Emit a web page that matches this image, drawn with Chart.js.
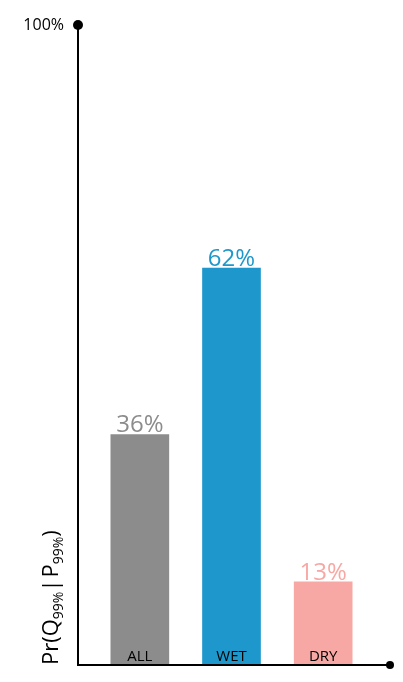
<!DOCTYPE html>
<html><head><meta charset="utf-8">
<script src="https://cdn.jsdelivr.net/npm/chart.js@4/dist/chart.umd.min.js"></script>
<style>html,body{margin:0;padding:0;background:#fff}#wrap{width:403px;height:682px}</style>
</head><body><div id="wrap"><canvas id="c"></canvas></div>
<script>
const categories = ["ALL", "WET", "DRY"];
const values = [36, 62, 13];
const colors = ["#8c8c8c", "#1e98cc", "#f7a8a4"];
const yMaxLabel = "100%";

const F = "'Open Sans', 'Liberation Sans', sans-serif";
const AX = 78, AXR = 390;
const deco = {
  id: 'deco',
  afterDatasetsDraw(chart) {
    const {ctx, chartArea: a} = chart;
    const xs = chart.scales.x, ys = chart.scales.y;
    ctx.save();
    ctx.strokeStyle = '#000'; ctx.lineWidth = 2;
    ctx.beginPath(); ctx.moveTo(AX, a.top); ctx.lineTo(AX, a.bottom); ctx.lineTo(AXR, a.bottom); ctx.stroke();
    ctx.fillStyle = '#000';
    ctx.beginPath(); ctx.arc(AX, a.top, 5, 0, Math.PI*2); ctx.fill();
    ctx.beginPath(); ctx.arc(AXR, a.bottom, 4, 0, Math.PI*2); ctx.fill();
    ctx.font = '16px ' + F; ctx.textAlign = 'right'; ctx.textBaseline = 'middle';
    ctx.fillText(yMaxLabel, AX - 14, ys.getPixelForValue(100));
    values.forEach((v, i) => {
      const x = xs.getPixelForValue(i);
      ctx.textAlign = 'center';
      ctx.font = '24px ' + F; ctx.fillStyle = colors[i]; ctx.textBaseline = 'bottom';
      ctx.fillText(v + '%', x, ys.getPixelForValue(v) + 3);
      ctx.font = '15px ' + F; ctx.fillStyle = '#000'; ctx.textBaseline = 'bottom';
      ctx.fillText(categories[i], x, a.bottom - 1);
    });
    ctx.translate(50, a.bottom);
    ctx.rotate(-Math.PI/2);
    ctx.textAlign = 'left'; ctx.textBaseline = 'alphabetic'; ctx.fillStyle = '#000';
    const parts = [["Pr(Q", 22, 0], ["99%", 14, 5], ["|", 22, 0], ["P", 22, 0], ["99%", 14, 5], [")", 22, 0]];
    let px = 0;
    parts.forEach(([t, s, dy]) => { ctx.font = s + 'px ' + F; ctx.fillText(t, px, dy + 8); px += ctx.measureText(t).width + (t === "|" ? 2 : 0); });
    ctx.restore();
  }
};
new Chart(document.getElementById('c'), {
  type: 'bar',
  data: { labels: categories, datasets: [{ data: values, backgroundColor: colors, barThickness: 58 }] },
  options: {
    responsive: true, maintainAspectRatio: false, animation: false,
    layout: { padding: { left: 94, top: 25, right: 34, bottom: 17 } },
    plugins: { legend: { display: false }, tooltip: { enabled: false } },
    scales: {
      x: { display: false },
      y: { min: 0, max: 100, display: false }
    }
  },
  plugins: [deco]
});
</script></body></html>
